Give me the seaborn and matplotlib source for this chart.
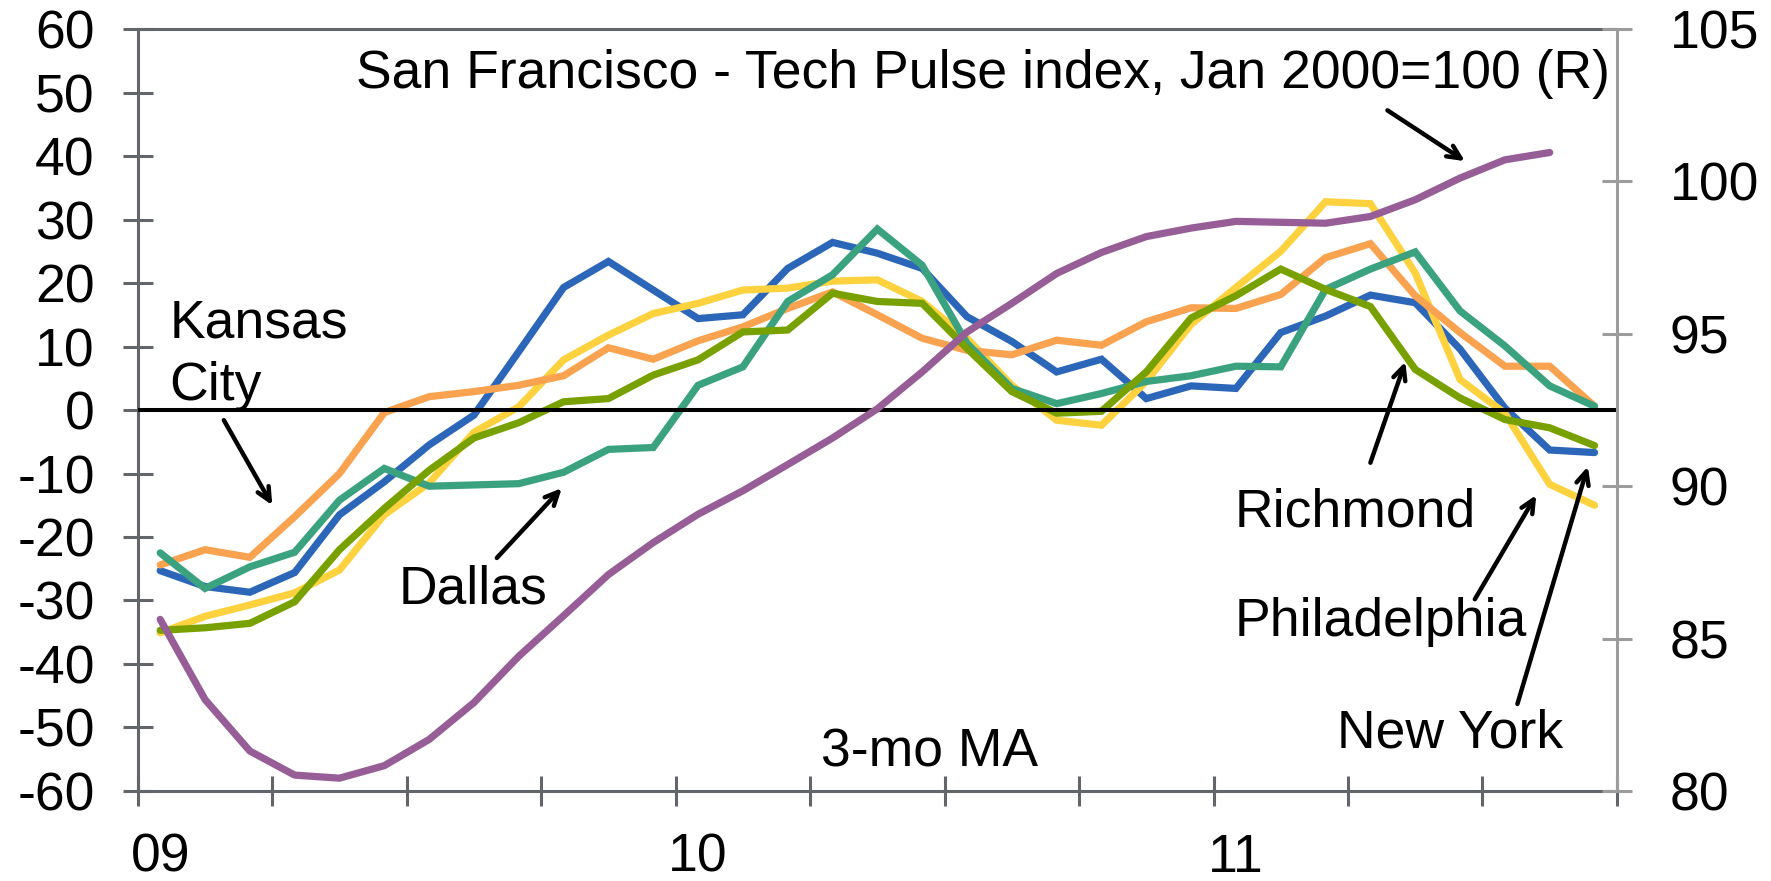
import numpy as np
import pandas as pd
import matplotlib
matplotlib.use("Agg")
import matplotlib.pyplot as plt
import seaborn as sns

# monthly, Jan 2009 .. Sep 2011 (3-mo MA)
months = list(range(33))
new_york = [-25.3, -27.8, -28.7, -25.6, -16.5, -11.3, -5.5, -0.8, 9.2, 19.3, 23.4, 18.9, 14.4,
            15.0, 22.3, 26.4, 24.7, 22.3, 14.7, 10.8, 6.0, 8.0, 1.8, 3.8, 3.4, 12.2, 14.8,
            18.1, 16.9, 9.6, 0.3, -6.3, -6.7]
philadelphia = [-35.1, -32.5, -30.7, -28.8, -25.2, -16.5, -11.5, -3.5, 0.5, 7.9, 11.8, 15.2, 16.8,
                18.9, 19.2, 20.3, 20.5, 17.1, 11.3, 3.9, -1.6, -2.4, 4.5, 13.5, 19.3, 25.0, 32.8,
                32.5, 21.6, 4.8, -0.5, -11.7, -15.0]
kansas_city = [-24.4, -22.0, -23.2, -16.8, -10.0, -0.4, 2.1, 2.9, 3.9, 5.4, 9.8, 8.0, 10.9,
               13.1, 16.0, 18.6, 15.0, 11.3, 9.4, 8.7, 11.0, 10.2, 13.9, 16.1, 16.0, 18.2, 24.0,
               26.2, 18.0, 12.2, 6.9, 6.9, 0.6]
dallas = [-22.5, -28.1, -24.7, -22.4, -14.2, -9.2, -12.0, -11.8, -11.6, -9.8, -6.2, -5.9, 3.9,
          6.8, 17.1, 21.3, 28.5, 22.8, 10.5, 3.4, 1.0, 2.6, 4.5, 5.4, 6.9, 6.8, 19.0,
          22.2, 24.9, 15.6, 10.1, 3.8, 0.6]
richmond = [-34.7, -34.3, -33.6, -30.2, -22.0, -15.5, -9.5, -4.4, -2.0, 1.3, 1.8, 5.5, 7.9,
            12.3, 12.6, 18.4, 17.1, 16.8, 9.7, 2.9, -0.5, -0.2, 6.0, 14.5, 18.0, 22.2, 19.0,
            16.3, 6.4, 1.9, -1.5, -2.8, -5.6]
# SF Tech Pulse index (right axis), Jan 2009 .. Aug 2011
sf_tech_pulse = [85.63, 83.0, 81.31, 80.52, 80.42, 80.83, 81.69, 82.90, 84.42, 85.75, 87.10,
                 88.15, 89.08, 89.85, 90.71, 91.58, 92.54, 93.75, 95.06, 96.0, 96.98, 97.67,
                 98.19, 98.47, 98.69, 98.66, 98.63, 98.85, 99.40, 100.11, 100.71, 100.95]

year_labels = ["09", "10", "11"]
year_pos = [0, 12, 24]

colors = {"New York": "#2b66b9", "Philadelphia": "#fdd23e", "Kansas City": "#f9a24f",
          "Dallas": "#3ba27f", "Richmond": "#78a100"}
purple = "#965d97"

df = pd.DataFrame({"month": months * 5,
                   "district": sum([[k] * 33 for k in colors], []),
                   "value": new_york + philadelphia + kansas_city + dallas + richmond})

sns.set_style("white")
plt.rcParams["font.family"] = ["Liberation Sans", "DejaVu Sans"]
plt.rcParams["axes.unicode_minus"] = False
plt.rcParams["text.color"] = "black"
fs = 38.5
lw = 5.2

fig = plt.figure(figsize=(17.71, 8.81), dpi=100)
ax = fig.add_axes([0.0778, 0.1022, 0.8352, 0.8648])
ax2 = ax.twinx()

sns.lineplot(data=df, x="month", y="value", hue="district", palette=colors,
             legend=False, sort=False, linewidth=lw, ax=ax)
plt.setp(ax.get_lines(), linewidth=lw, solid_joinstyle="miter")
ax.axhline(0, color="black", lw=2.9, zorder=5)
sns.lineplot(x=months[:len(sf_tech_pulse)], y=sf_tech_pulse, color=purple,
             linewidth=lw, ax=ax2)
plt.setp(ax2.get_lines(), linewidth=lw, solid_capstyle="round")

ax.set_xlim(-0.5, 32.5)
ax.set_ylim(-60, 60)
ax2.set_ylim(80, 105)
ax.set_yticks(range(-60, 61, 10))
ax2.set_yticks(range(80, 106, 5))
ax.set_xticks(np.arange(-0.5, 33, 3))
ax.set_xticklabels([])
ax.set_xticks(year_pos, minor=True)
ax.set_xticklabels(year_labels, minor=True)
ax.set_xlabel("")
ax.set_ylabel("")
ax2.set_ylabel("")

dark = "#62666b"
light = "#9c9c9c"
for s in ["left", "bottom", "top"]:
    ax.spines[s].set_color(dark)
    ax.spines[s].set_linewidth(2.2)
ax.spines["right"].set_visible(False)
for s in ["left", "bottom", "top"]:
    ax2.spines[s].set_visible(False)
ax2.spines["right"].set_color(light)
ax2.spines["right"].set_linewidth(2.2)

ax.tick_params(axis="y", which="major", direction="inout", length=22, width=2.2,
               color=dark, labelcolor="black", labelsize=fs, pad=20, left=True)
ax.tick_params(axis="x", which="major", direction="inout", length=22, width=2.2,
               color=dark, bottom=True)
ax.tick_params(axis="x", which="minor", length=0, labelsize=fs, labelcolor="black", pad=30)
ax2.tick_params(axis="y", direction="inout", length=22, width=2.2, color=light,
                labelcolor="black", labelsize=fs, pad=27, right=True)

ax.text(4.37, 50.7, "San Francisco - Tech Pulse index, Jan 2000=100 (R)", fontsize=fs,
        va="baseline")
ax.text(0.21, 11.5, "Kansas", fontsize=fs, va="baseline")
ax.text(0.21, 1.6, "City", fontsize=fs, va="baseline")
ax.text(5.31, -30.4, "Dallas", fontsize=fs, va="baseline")
ax.text(14.74, -56.2, "3-mo MA", fontsize=fs, va="baseline")
ax.text(23.96, -18.3, "Richmond", fontsize=fs, va="baseline")
ax.text(23.96, -35.6, "Philadelphia", fontsize=fs, va="baseline")
ax.text(26.26, -53.2, "New York", fontsize=fs, va="baseline")

arrows = [((1.42, -1.6), (2.5, -15.0)),
          ((7.51, -23.3), (8.96, -12.3)),
          ((27.38, 47.2), (29.11, 39.2)),
          ((27.0, -8.3), (27.78, 7.6)),
          ((29.33, -29.8), (30.70, -13.4)),
          ((30.28, -46.3), (31.85, -8.9))]
for tail, head in arrows:
    ax.annotate("", xy=head, xytext=tail,
                arrowprops=dict(arrowstyle="->,head_length=0.95,head_width=0.45",
                                color="black", lw=3.2, shrinkA=0, shrinkB=0),
                zorder=6)

fig.savefig("out.png", dpi=100)
